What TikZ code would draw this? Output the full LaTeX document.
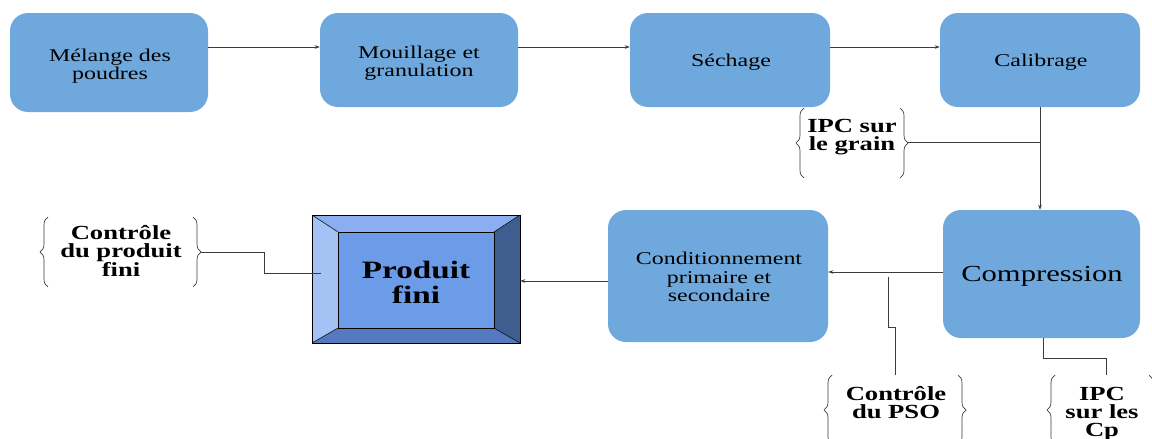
\documentclass[tikz,border=0pt]{standalone}
\usepackage{fontspec}
\setmainfont[FakeStretch=1.33]{Liberation Serif}
\usetikzlibrary{arrows.meta,decorations.pathreplacing,calc}
\definecolor{boxblue}{RGB}{111,168,220}
\definecolor{pfmid}{RGB}{108,156,232}
\definecolor{pfleft}{RGB}{164,194,244}
\definecolor{pftop}{RGB}{138,174,240}
\definecolor{pfright}{RGB}{63,94,143}
\definecolor{pfbot}{RGB}{84,121,190}
\definecolor{linec}{RGB}{60,60,60}
\tikzset{
  stepbox/.style={fill=boxblue, draw=none, rounded corners=18pt, inner sep=0pt},
  steptext/.style={align=center, font=\fontsize{18}{18.5}\selectfont, inner sep=0pt},
  arr/.style={draw=linec, line width=0.8pt, -{Stealth[length=5pt,width=3.5pt]}},
  ln/.style={draw=linec, line width=0.8pt},
  brc/.style={draw=linec, line width=0.7pt, decorate, decoration={brace, amplitude=8pt}},
  note/.style={align=center, font=\bfseries\fontsize{20}{18}\selectfont, inner sep=0pt}
}
\begin{document}
\begin{tikzpicture}[x=1pt,y=-1pt]
\useasboundingbox (0,0) rectangle (1152,439);
% process boxes
\node[stepbox, minimum width=198pt, minimum height=99pt] (m1) at (109,62.5) {};
\node[stepbox, minimum width=198pt, minimum height=94pt] (m2) at (419,60) {};
\node[stepbox, minimum width=200pt, minimum height=94pt] (m3) at (730,60) {};
\node[stepbox, minimum width=200pt, minimum height=94pt] (m4) at (1040,60) {};
\node[stepbox, minimum width=197pt, minimum height=128pt] (m5) at (1041.5,274) {};
\node[stepbox, minimum width=220pt, minimum height=132pt] (m6) at (718,276) {};
\node[steptext] (t1) at (110,66) {Mélange des\\poudres};
\node[steptext] (t2) at (419,63) {Mouillage et\\granulation};
\node[steptext] (t3) at (731,62) {Séchage};
\node[steptext, font=\fontsize{23}{25}\selectfont] (t5) at (1042,276) {Compression};
\node[steptext] (t4) at (1041,62) {Calibrage};
\node[steptext] (t6) at (719,277) {Conditionnement\\primaire et\\secondaire};
% produit fini bevel box
\node[minimum width=208pt, minimum height=128pt, inner sep=0pt] (pf) at (416,279) {};
\coordinate (o1) at (312,215); \coordinate (o2) at (520,215);
\coordinate (o3) at (520,343); \coordinate (o4) at (312,343);
\coordinate (i1) at (338,232); \coordinate (i2) at (494,232);
\coordinate (i3) at (494,328); \coordinate (i4) at (338,328);
\fill[pfleft] (o1) -- (i1) -- (i4) -- (o4) -- cycle;
\fill[pftop] (o1) -- (o2) -- (i2) -- (i1) -- cycle;
\fill[pfright] (o2) -- (o3) -- (i3) -- (i2) -- cycle;
\fill[pfbot] (o4) -- (i4) -- (i3) -- (o3) -- cycle;
\fill[pfmid] (i1) rectangle (i3);
\draw[black, line width=0.7pt] (o1) rectangle (o3);
\draw[black, line width=0.7pt] (i1) rectangle (i3);
\draw[black, line width=0.5pt] (o1) -- (i1) (o2) -- (i2) (o3) -- (i3) (o4) -- (i4);
\node[note, font=\bfseries\fontsize{25}{25}\selectfont] (pft) at (416,282) {Produit\\fini};
% notes
\node[note] (n1) at (852,137) {IPC sur\\le grain};
\node[note] (n2) at (121,251) {Contrôle\\du produit\\fini};
\node[note] (n3) at (896,403) {Contrôle\\du PSO};
\node[note] (n4) at (1102,414) {IPC\\sur les\\Cp};
% braces
\draw[brc] (804,178) -- (804,108);
\draw[brc] (900,108) -- (900,178);
\coordinate (b1) at (908,142);
\draw[brc] (48,287) -- (48,217);
\draw[brc] (193,217) -- (193,287);
\coordinate (b2) at (201,252);
\draw[brc] (832,445) -- (832,375);
\draw[brc] (958,375) -- (958,445);
\coordinate (b3) at (895,375);
\draw[brc] (1055,445) -- (1055,375);
\draw[brc] (1149,375) -- (1149,445);
\coordinate (b4) at (1106,375);
% connectors
\draw[arr] ([yshift=15.5pt]m1.east) -- ([yshift=15.5pt]m1.east -| m2.west);
\draw[arr] ([yshift=13pt]m2.east) -- ([yshift=13pt]m2.east -| m3.west);
\draw[arr] ([yshift=13pt]m3.east) -- ([yshift=13pt]m3.east -| m4.west);
\draw[arr] (m4.south) -- (m4.south |- m5.north);
\draw[ln] (b1) -- (b1 -| m4.south);
\draw[arr] ([yshift=2pt]m5.west) -- ([yshift=2pt]m5.west -| m6.east);
\draw[arr] ([yshift=-5pt]m6.west) -- ([yshift=-5pt]m6.west -| pf.east);
\draw[ln] (888,277) -- (888,327) -- (b3 |- 0,327) -- (b3);
\draw[ln] ([xshift=1.5pt]m5.south) -- ([xshift=1.5pt]m5.south |- 0,358) -- (b4 |- 0,358) -- (b4);
\draw[ln] (b2) -- (264,252) -- (264,273) -- (321,273);
\end{tikzpicture}
\end{document}
